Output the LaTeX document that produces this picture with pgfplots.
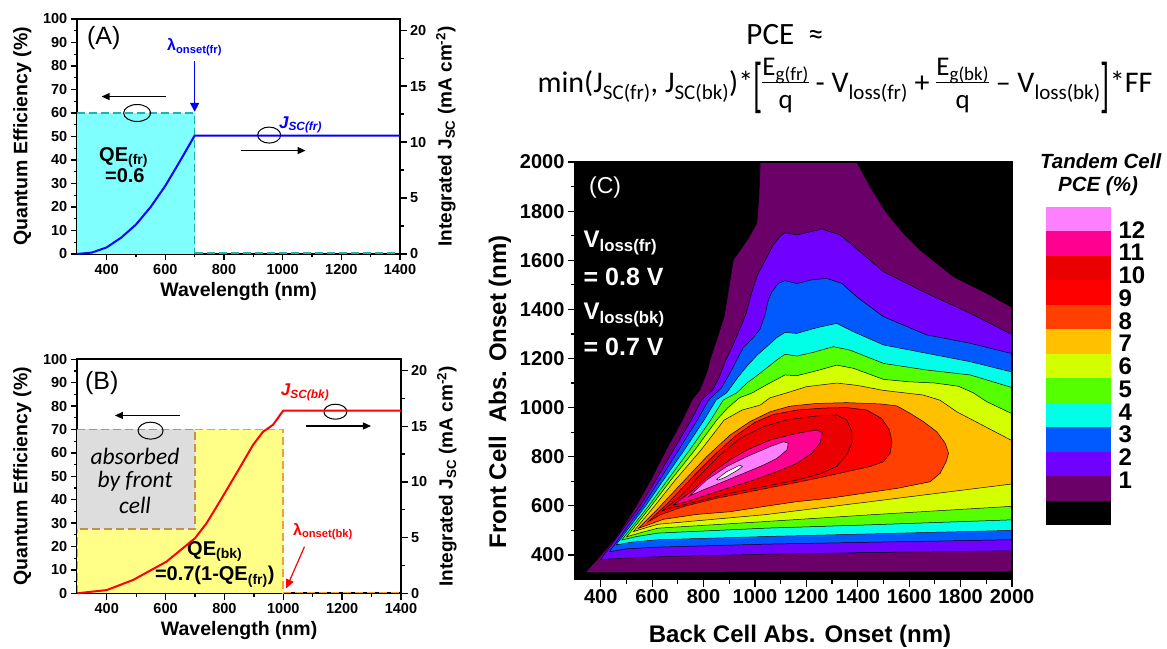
\documentclass[border=0pt]{standalone}
\usepackage{fontspec}
\setmainfont{Liberation Sans}
\newfontfamily\cali{Carlito}
\usepackage{graphicx}
\usepackage{pgfplots}
\pgfplotsset{compat=1.18}
\usetikzlibrary{arrows.meta}
\newcommand{\fs}[1]{\fontsize{#1}{#1}\selectfont}
\newcommand{\fr}[2]{{\fs{27}\renewcommand{\arraystretch}{0.85}\begin{tabular}{@{}c@{}}#1\\[-2pt]\hline\rule{0pt}{0.95em}#2\end{tabular}}}
\definecolor{cA}{HTML}{6A0068}
\definecolor{cB}{HTML}{7000FF}
\definecolor{cC}{HTML}{005AFF}
\definecolor{cD}{HTML}{00FFE6}
\definecolor{cE}{HTML}{55FF00}
\definecolor{cF}{HTML}{D4FF00}
\definecolor{cG}{HTML}{FFC000}
\definecolor{cH}{HTML}{FF4000}
\definecolor{cI}{HTML}{FF0000}
\definecolor{cJ}{HTML}{EA0000}
\definecolor{cK}{HTML}{FF0090}
\definecolor{cL}{HTML}{FF80FF}
\definecolor{cyanfill}{HTML}{80FFFF}
\definecolor{tealdash}{HTML}{26AFAF}
\definecolor{yelfill}{HTML}{FFFF88}
\definecolor{grayfill}{HTML}{DDDDDD}
\definecolor{orgdash}{HTML}{F5A030}
\definecolor{brndash}{HTML}{C89050}
\pgfplotsset{
  /pgf/number format/1000 sep={},
  qeaxis/.style={anchor=south west, scale only axis,
    xmin=300, xmax=1400, ymin=0, ymax=100,
    xtick={400,600,...,1400}, ytick={0,10,...,100},
    minor x tick num=1, minor y tick num=1,
    xtick pos=left, ytick pos=left, tick align=outside,
    major tick length=6.5pt, minor tick length=3.5pt,
    tick style={line width=1.3pt, black},
    axis line style={line width=1.8pt},
    ticklabel style={font=\fs{14.5}\bfseries},
    /pgf/number format/assume math mode=true,
    xlabel={Wavelength (nm)}, ylabel={Quantum Efficiency (\%)},
    label style={font=\fs{19.5}\bfseries},
    xlabel style={at={(axis description cs:0.5,-0.16)}, anchor=center},
    ylabel style={at={(axis description cs:-0.17,0.5)}, anchor=center},
    clip=false},
  jaxis/.style={anchor=south west, scale only axis,
    xmin=300, xmax=1400, ymin=0, ymax=21,
    axis x line=none, axis y line*=right,
    ytick={0,5,...,20}, minor y tick num=1, tick align=outside,
    major tick length=6.5pt, minor tick length=3.5pt,
    tick style={line width=1.3pt, black},
    axis line style={line width=1.8pt},
    ticklabel style={font=\fs{14.5}\bfseries},
    /pgf/number format/assume math mode=true,
    ylabel={Integrated J\textsubscript{SC} (mA cm\textsuperscript{-2})},
    label style={font=\fs{19}\bfseries},
    ylabel style={at={(axis description cs:1.142,0.5)}, anchor=center},
    clip=false},
}
\begin{document}
\begin{tikzpicture}[x=1pt,y=1pt]
\path[use as bounding box] (0,0) rectangle (1167,648);

% ---------------- Panel A ----------------
\begin{axis}[qeaxis, at={(77.3pt,394pt)}, width=322.7pt, height=235pt]
\addplot[draw=none, fill=cyanfill] coordinates {(300,0) (700,0) (700,60) (300,60)} -- cycle;
\addplot[tealdash, line width=1.6pt, dash pattern=on 8pt off 4pt] coordinates {(300,60) (700,60) (700,0)};
\addplot[tealdash, line width=1.6pt, dash pattern=on 8pt off 4pt] coordinates {(700,0.4) (1400,0.4)};
\draw[blue, line width=1.5pt, -{Triangle[length=9pt,width=9pt]}] (axis cs:700,82) -- (axis cs:700,60.5);
\node[blue, font=\fs{16}\bfseries] at (axis cs:700,88) {λ\textsubscript{onset(fr)}};
\draw[black, line width=1.3pt, -{Triangle[length=8pt,width=7pt]}] (axis cs:603,67) -- (axis cs:383,67);
\draw[black, line width=1pt] (axis cs:504,60) ellipse [x radius=13.5pt, y radius=8.5pt];
\draw[black, line width=1pt] (axis cs:954,50.6) ellipse [x radius=11.5pt, y radius=8pt];
\draw[black, line width=1.3pt, -{Triangle[length=8pt,width=7pt]}] (axis cs:858,44) -- (axis cs:1078,44);
\node[font=\fs{25}] at (axis cs:390,92) {(A)};
\node[font=\fs{20}\bfseries] at (axis cs:458,41) {QE\textsubscript{(fr)}};
\node[font=\fs{20}\bfseries] at (axis cs:462,33.4) {=0.6};
\node[blue, font=\fs{17}\bfseries\itshape] at (axis cs:1061,55) {J\textsubscript{SC(fr)}};
\end{axis}
\begin{axis}[jaxis, at={(77.3pt,394pt)}, width=322.7pt, height=235pt]
\addplot[blue, line width=2pt] coordinates {(300,0) (350,0.13) (400,0.59) (450,1.47) (500,2.63) (550,4.2) (600,6.09) (650,8.3) (700,10.58) (1400,10.58)};
\end{axis}

% ---------------- Panel B ----------------
\begin{axis}[qeaxis, at={(77.3pt,54.7pt)}, width=323.7pt, height=234pt]
\addplot[draw=none, fill=yelfill] coordinates {(300,0) (1000,0) (1000,70) (300,70)} -- cycle;
\addplot[draw=none, fill=grayfill] coordinates {(300,27.5) (700,27.5) (700,70) (300,70)} -- cycle;
\addplot[orgdash, line width=1.6pt, dash pattern=on 8pt off 4pt] coordinates {(700,70) (1000,70) (1000,0)};
\addplot[orgdash, line width=1.6pt, dash pattern=on 8pt off 4pt] coordinates {(1000,0.4) (1400,0.4)};
\addplot[orgdash, line width=1.6pt, dash pattern=on 8pt off 4pt] coordinates {(301,0) (301,27.5)};
\addplot[brndash, line width=1.6pt, dash pattern=on 8pt off 4pt] coordinates {(300,70) (700,70) (700,27.5) (300,27.5)};
\draw[black, line width=1.3pt, -{Triangle[length=8pt,width=7pt]}] (axis cs:649,76) -- (axis cs:428,76);
\draw[black, line width=1pt] (axis cs:549,69.5) ellipse [x radius=12.5pt, y radius=8.5pt];
\draw[black, line width=1pt] (axis cs:1177,77.6) ellipse [x radius=11.5pt, y radius=7.5pt];
\draw[black, line width=1.3pt, -{Triangle[length=8pt,width=7pt]}] (axis cs:1078,71.5) -- (axis cs:1298,71.5);
\node[font=\fs{25}] at (axis cs:383,90) {(B)};
\node[font=\cali\fs{23.5}\itshape] at (axis cs:496,58.4) {absorbed};
\node[font=\cali\fs{23.5}\itshape] at (axis cs:496,47.7) {by front};
\node[font=\cali\fs{23.5}\itshape] at (axis cs:496,37.7) {cell};
\node[font=\fs{20}\bfseries] at (axis cs:767,17.8) {QE\textsubscript{(bk)}};
\node[font=\fs{20}\bfseries] at (axis cs:767,7.1) {=0.7(1-QE\textsubscript{(fr)})};
\node[red, font=\fs{16}\bfseries] at (axis cs:1135,26.4) {λ\textsubscript{onset(bk)}};
\draw[red, line width=1.2pt, -{Triangle[length=9pt,width=8pt]}] (axis cs:1072,19.9) -- (axis cs:1010,2.1);
\node[red, font=\fs{17}\bfseries\itshape] at (axis cs:1074,86) {J\textsubscript{SC(bk)}};
\end{axis}
\begin{axis}[jaxis, at={(77.3pt,54.7pt)}, width=323.7pt, height=234pt]
\addplot[red, line width=2pt] coordinates {(300,0) (400,0.29) (490,1.2) (603,2.84) (700,4.94) (739,6.28) (784,8.23) (841,10.77) (897,13.31) (931,14.49) (965,15.12) (1000,16.4) (1400,16.4)};
\end{axis}

% ---------------- Panel C ----------------
\begin{axis}[anchor=south west, scale only axis, at={(575pt,68.5pt)}, width=437pt, height=417.5pt,
  xmin=300, xmax=2000, ymin=300, ymax=2000,
  xtick={400,600,...,2000}, ytick={400,600,...,2000},
  minor x tick num=1, minor y tick num=1,
  xtick pos=left, ytick pos=left, tick align=outside,
  major tick length=7pt, minor tick length=4pt,
  tick style={line width=1.2pt, black},
  axis line style={line width=1.2pt},
  axis background/.style={fill=black}, axis on top,
  ticklabel style={font=\fs{20}\bfseries},
  /pgf/number format/assume math mode=true,
  xlabel={Back Cell Abs. Onset (nm)}, ylabel={Front Cell\ \ Abs. Onset (nm)},
  label style={font=\fs{24}\bfseries},
  xlabel style={at={(axis description cs:0.515,-0.137)}, anchor=center},
  ylabel style={at={(axis description cs:-0.172,0.45)}, anchor=center}]
% level 1
\addplot[fill=cA, draw=black, line width=0.5pt] coordinates {(339,328) (2100,333) (2100,1380) (1995,1411) (1902,1465) (1772,1533) (1642,1642) (1577,1710) (1513,1791) (1448,1899) (1398,1997) (1385,2100) (1020,2100) (1020,1981) (1015,1850) (1007,1750) (975,1690) (942,1640) (916,1601) (905,1530) (893,1450) (880,1370) (851,1275) (830,1210) (815,1150) (786,1072) (755,1031) (718,949) (654,827) (595,705) (538,600) (478,500) (462,474) (384,379)} -- cycle;
% level 2
\addplot[fill=cB, draw=black, line width=0.5pt] coordinates {(400,382) (600,392) (1040,403) (1457,410) (2000,417) (2100,418) (2100,1250) (1995,1300) (1837,1384) (1668,1465) (1500,1553) (1370,1669) (1331,1703) (1260,1727) (1163,1703) (1117,1712) (1100,1700) (1070,1660) (1040,1600) (1010,1540) (985,1460) (965,1380) (945,1330) (915,1255) (885,1190) (860,1120) (835,1072) (793,1031) (752,949) (683,827) (615,705) (553,600) (483,500)} -- cycle;
% level 3
\addplot[fill=cC, draw=black, line width=0.5pt] coordinates {(434,413) (500,425) (623,432) (1040,444) (1457,452) (2000,462) (2100,464) (2100,1200) (1995,1221) (1837,1262) (1668,1296) (1500,1370) (1396,1451) (1338,1506) (1279,1526) (1220,1520) (1163,1505) (1117,1517) (1090,1505) (1065,1470) (1050,1430) (1040,1380) (1020,1320) (990,1280) (955,1245) (925,1185) (900,1135) (870,1080) (820,1031) (776,949) (703,827) (629,705) (564,600) (494,500)} -- cycle;
% level 4
\addplot[fill=cD, draw=black, line width=0.5pt] coordinates {(460,441) (520,452) (623,462) (1040,475) (1457,486) (2000,500) (2100,503) (2100,1125) (1995,1146) (1837,1187) (1668,1221) (1500,1255) (1383,1309) (1318,1343) (1240,1325) (1163,1302) (1117,1306) (1085,1285) (1046,1248) (1010,1215) (970,1170) (935,1125) (890,1060) (849,1031) (802,949) (725,827) (644,705) (575,600)} -- cycle;
% level 5
\addplot[fill=cE, draw=black, line width=0.5pt] coordinates {(482,461) (540,475) (623,489) (1040,509) (1457,523) (2000,543) (2100,547) (2100,1050) (1995,1083) (1837,1133) (1668,1153) (1500,1180) (1370,1234) (1305,1248) (1227,1225) (1163,1210) (1117,1217) (1085,1194) (1020,1140) (968,1099) (929,1060) (877,1031) (828,949) (746,827) (660,705) (587,600)} -- cycle;
% level 6
\addplot[fill=cF, draw=black, line width=0.5pt] coordinates {(501,474) (560,492) (623,509) (1040,536) (1457,564) (2000,598) (2100,605) (2100,930) (2000,975) (1900,1025) (1850,1060) (1791,1087) (1700,1100) (1600,1105) (1500,1115) (1383,1160) (1318,1173) (1240,1150) (1163,1130) (1117,1133) (1085,1115) (1040,1090) (990,1060) (940,1040) (895,1000) (851,949) (766,827) (673,705) (597,600)} -- cycle;
% level 7
\addplot[fill=cG, draw=black, line width=0.5pt] coordinates {(527,495) (580,512) (623,525) (1040,564) (1457,618) (2000,689) (2100,705) (2100,820) (1995,868) (1900,920) (1785,983) (1720,1030) (1655,1051) (1500,1070) (1400,1090) (1318,1100) (1200,1085) (1124,1060) (1059,1040) (1020,1010) (950,990) (880,949) (790,827) (690,705) (610,600)} -- cycle;
% level 8
\addplot[fill=cH, draw=black, line width=0.5pt] coordinates {(546,508) (618,583) (709,685) (812,800) (903,888) (981,943) (1059,983) (1137,1006) (1240,1017) (1357,1020) (1487,1015) (1552,1007) (1603,977) (1655,943) (1707,902) (1740,855) (1753,814) (1744,780) (1720,732) (1681,698) (1552,671) (1422,651) (1292,631) (1163,617) (1033,597) (903,576) (773,565) (644,545)} -- cycle;
% level 9
\addplot[fill=cI, draw=black, line width=0.5pt] coordinates {(585,535) (665,615) (760,720) (850,815) (925,885) (1000,940) (1072,972) (1163,990) (1266,998) (1357,1000) (1435,990) (1493,956) (1523,909) (1533,861) (1526,814) (1500,780) (1448,760) (1357,739) (1240,712) (1111,685) (981,658) (851,631) (722,597) (631,563)} -- cycle;
% level 10
\addplot[fill=cJ, draw=black, line width=0.5pt] coordinates {(640,580) (709,637) (799,739) (864,807) (942,875) (1033,922) (1124,950) (1240,966) (1318,970) (1357,950) (1377,902) (1377,855) (1357,807) (1318,760) (1253,730) (1163,705) (1033,678) (903,651) (773,617) (670,590)} -- cycle;
% level 11
\addplot[fill=cK, draw=black, line width=0.5pt] coordinates {(683,603) (760,665) (838,739) (903,787) (968,827) (1059,868) (1163,895) (1240,909) (1262,898) (1253,855) (1221,814) (1163,773) (1085,739) (994,705) (903,675) (812,644) (734,617)} -- cycle;
% level 12
\addplot[fill=cL, draw=black, line width=0.5pt] coordinates {(745,640) (812,705) (890,760) (968,800) (1059,841) (1111,861) (1130,855) (1124,827) (1085,793) (1033,766) (955,732) (877,698) (799,665)} -- cycle;
% level 13
\addplot[fill=white, draw=black, line width=0.5pt] coordinates {(851,708) (890,739) (942,766) (951,760) (929,743) (884,716) (858,705)} -- cycle;
\node[white, font=\fs{23}] at (axis cs:417,1894) {(C)};
\node[white, font=\fs{24}\bfseries, anchor=west] at (axis cs:320,1670) {V\textsubscript{loss(fr)}};
\node[white, font=\fs{25}\bfseries, anchor=west] at (axis cs:320,1532) {= 0.8 V};
\node[white, font=\fs{24}\bfseries, anchor=west] at (axis cs:320,1377) {V\textsubscript{loss(bk)}};
\node[white, font=\fs{25}\bfseries, anchor=west] at (axis cs:320,1247) {= 0.7 V};
\end{axis}

% ---------------- Colour bar ----------------
\begin{axis}[anchor=south west, scale only axis, at={(1046pt,123pt)}, width=65pt, height=318.3pt,
  xmin=0, xmax=1, ymin=0, ymax=13,
  axis line style={draw=none}, xtick=\empty,
  ytick={1.84,2.77,3.70,4.62,5.55,6.48,7.41,8.34,9.27,10.19,11.12,12.05},
  yticklabels={1,2,3,4,5,6,7,8,9,10,11,12},
  yticklabel pos=right, major tick length=0pt, tick style={draw=none},
  yticklabel style={font=\fs{24}\bfseries, xshift=4pt}]
\addplot[fill=black, draw=none] coordinates {(0,0) (1,0) (1,1) (0,1)} -- cycle;
\addplot[fill=cA, draw=none] coordinates {(0,1) (1,1) (1,2) (0,2)} -- cycle;
\addplot[fill=cB, draw=none] coordinates {(0,2) (1,2) (1,3) (0,3)} -- cycle;
\addplot[fill=cC, draw=none] coordinates {(0,3) (1,3) (1,4) (0,4)} -- cycle;
\addplot[fill=cD, draw=none] coordinates {(0,4) (1,4) (1,5) (0,5)} -- cycle;
\addplot[fill=cE, draw=none] coordinates {(0,5) (1,5) (1,6) (0,6)} -- cycle;
\addplot[fill=cF, draw=none] coordinates {(0,6) (1,6) (1,7) (0,7)} -- cycle;
\addplot[fill=cG, draw=none] coordinates {(0,7) (1,7) (1,8) (0,8)} -- cycle;
\addplot[fill=cH, draw=none] coordinates {(0,8) (1,8) (1,9) (0,9)} -- cycle;
\addplot[fill=cI, draw=none] coordinates {(0,9) (1,9) (1,10) (0,10)} -- cycle;
\addplot[fill=cJ, draw=none] coordinates {(0,10) (1,10) (1,11) (0,11)} -- cycle;
\addplot[fill=cK, draw=none] coordinates {(0,11) (1,11) (1,12) (0,12)} -- cycle;
\addplot[fill=cL, draw=none] coordinates {(0,12) (1,12) (1,13) (0,13)} -- cycle;
\end{axis}
\node[font=\fs{20.5}\bfseries\itshape] at (1100.7,487.3) {Tandem Cell};
\node[font=\fs{20.5}\bfseries\itshape] at (1098,461.3) {PCE (\%)};

% ---------------- Formula ----------------
\node[font=\cali\fs{31}, anchor=base] at (785,603) {PCE\hspace{0.45em}≈};
\node[font=\cali\fs{30}, anchor=base] at (845,555) {min(J\textsubscript{SC(fr)}, J\textsubscript{SC(bk)})*\raisebox{-0.42em}{\scalebox{1}[2.0]{[}}\fr{E\textsubscript{g(fr)}}{q}\ - V\textsubscript{loss(fr)} + \fr{E\textsubscript{g(bk)}}{q} – V\textsubscript{loss(bk)}\raisebox{-0.42em}{\scalebox{1}[2.0]{]}}*FF};
\end{tikzpicture}
\end{document}
